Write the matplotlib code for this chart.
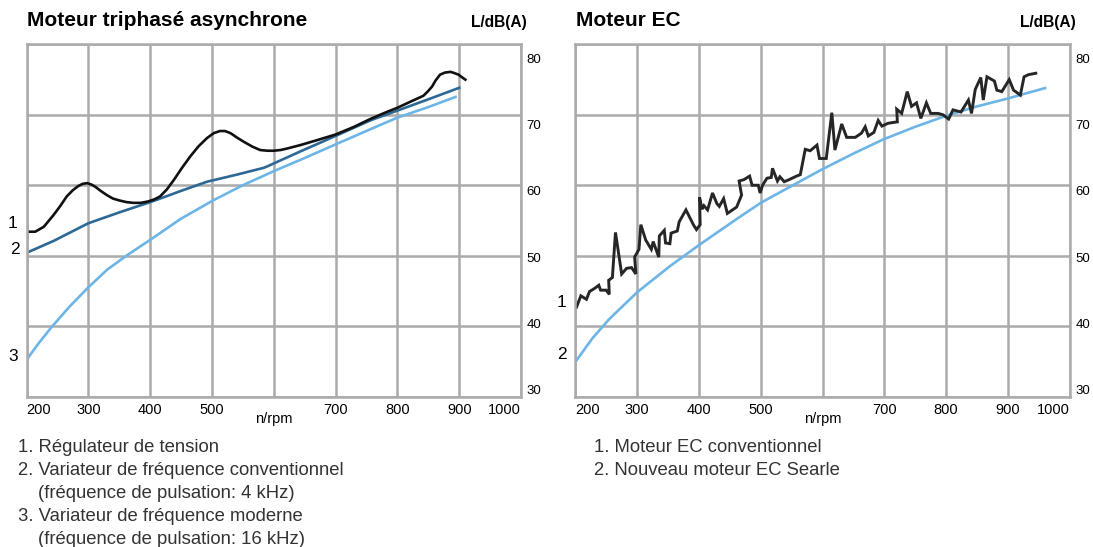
import matplotlib
matplotlib.use('Agg')  # no display
import matplotlib.pyplot as plt
import matplotlib.transforms as mtransforms

plt.rcParams['font.family'] = ['Liberation Sans', 'DejaVu Sans']

# axes
rpm_ticks = [200, 300, 400, 500, 600, 700, 800, 900, 1000]
rpm_labels = ['200', '300', '400', '500', '', '700', '800', '900', '1000']
db_ticks = [30, 40, 50, 60, 70, 80]

# left panel: moteur triphasé asynchrone
reg_rpm = [204, 214, 228, 244, 255, 265, 275, 284, 291, 298, 305, 311, 320, 330, 340,
           352, 362, 373, 385, 397, 407, 416, 427, 438, 451, 465, 478, 492, 503, 513,
           521, 530, 540, 551, 565, 578, 590, 600, 611, 621, 643, 670, 700, 730, 756,
           780, 800, 822, 842, 849, 856, 862, 869, 877, 886, 893, 899, 905, 910]
reg_db = [53.4, 53.4, 54.1, 55.8, 57.1, 58.4, 59.3, 59.9, 60.2, 60.3, 60.1, 59.8, 59.2, 58.6, 58.1,
          57.8, 57.6, 57.5, 57.5, 57.7, 58.0, 58.4, 59.4, 60.7, 62.4, 64.1, 65.5, 66.7, 67.4, 67.7,
          67.7, 67.4, 66.8, 66.2, 65.5, 65.0, 64.9, 64.9, 65.0, 65.2, 65.7, 66.4, 67.2, 68.3, 69.4,
          70.3, 71.0, 71.9, 72.7, 73.3, 74.0, 74.9, 75.7, 76.0, 76.1, 75.9, 75.7, 75.3, 75.0]

conv_rpm = [200, 244, 300, 352, 400, 416, 450, 492, 540, 585, 643, 700, 756, 800, 850, 902]
conv_db = [50.4, 52.1, 54.6, 56.2, 57.6, 58.1, 59.2, 60.5, 61.5, 62.5, 64.8, 67.0, 69.2, 70.6, 72.2, 73.9]

mod_rpm = [200, 220, 241, 270, 300, 331, 365, 401, 416, 449, 503, 550, 600, 643, 700, 772, 800, 850, 896]
mod_db = [35.2, 37.6, 39.9, 42.8, 45.5, 48.05, 50.2, 52.3, 53.2, 55.2, 57.9, 60.0, 62.0, 63.6, 65.8, 68.55, 69.6, 71.1, 72.6]

# right panel: moteur EC
ec_rpm = [202, 209, 218, 223, 232, 238, 241, 250, 255, 254, 260, 265, 275, 283, 291, 298, 296, 303,
          306, 314, 323, 326, 335, 336, 344, 346, 353, 355, 365, 368, 379, 391, 396, 402, 401, 405,
          408, 414, 422, 429, 433, 440, 446, 461, 469, 465, 473, 482, 486, 496, 499, 503, 510, 517,
          519, 527, 531, 538, 546, 558, 564, 572, 580, 591, 595, 606, 615, 620, 631, 639, 653, 663,
          669, 674, 683, 690, 696, 706, 721, 720, 728, 737, 744, 752, 759, 768, 775, 787, 795, 804,
          811, 824, 836, 841, 847, 856, 860, 866, 878, 882, 890, 902, 909, 920, 926, 933, 945]
ec_db = [42.7, 44.3, 43.8, 44.9, 45.4, 45.8, 45.1, 45.1, 44.5, 46.5, 46.9, 53.3, 47.4, 48.2, 48.3, 47.4, 49.8, 50.9,
         54.4, 52.2, 50.9, 52.0, 49.8, 52.8, 53.6, 51.8, 51.7, 53.2, 53.5, 54.8, 56.5, 54.4, 53.7, 54.4, 58.3, 56.6,
         57.1, 56.5, 58.9, 57.4, 57.0, 58.1, 56.0, 56.9, 58.6, 60.6, 60.8, 61.3, 60.0, 60.0, 58.9, 60.0, 61.0, 61.1,
         62.4, 60.6, 61.2, 60.5, 60.8, 61.3, 61.5, 65.1, 64.9, 65.7, 63.8, 63.8, 70.3, 65.0, 68.7, 66.8, 66.8, 67.4,
         68.3, 67.0, 67.5, 69.2, 68.4, 68.8, 69.0, 70.8, 70.2, 73.3, 71.2, 71.7, 69.5, 71.7, 70.2, 70.2, 70.0, 69.4,
         70.7, 70.4, 72.1, 70.2, 73.6, 75.3, 72.1, 75.4, 74.8, 73.5, 73.3, 75.0, 73.5, 72.8, 75.4, 75.7, 75.9]

searle_rpm = [200, 228, 255, 300, 353, 400, 461, 500, 550, 598, 650, 698, 750, 798, 850, 899, 960]
searle_db = [34.9, 38.3, 41.0, 44.8, 48.5, 51.5, 55.2, 57.5, 59.9, 62.2, 64.5, 66.5, 68.3, 69.8, 71.2, 72.3, 73.8]

left_notes = [('1. Régulateur de tension', 0),
              ('2. Variateur de fréquence conventionnel', 1),
              ('(fréquence de pulsation: 4 kHz)', 2),
              ('3. Variateur de fréquence moderne', 1),
              ('(fréquence de pulsation: 16 kHz)', 2)]
right_notes = ['1. Moteur EC conventionnel', '2. Nouveau moteur EC Searle']

GRID = '#ababab'
BLACK = '#111111'
DARKBLUE = '#2c6896'
LIGHTBLUE = '#6db5e6'

W, H = 1093, 547
fig = plt.figure(figsize=(W / 100, H / 100), dpi=100)


def px(x, y):
    return x / W, 1 - y / H


def panel(left_px, title, title_x):
    ax = fig.add_axes([left_px / W, 1 - 396.5 / H, 494.5 / W, 352.1 / H])
    ax.set_xlim(200, 1000)
    ax.set_ylim(30, 80)
    ax.set_xticks(rpm_ticks)
    ax.set_xticklabels(rpm_labels, fontsize=10.5)
    ticklabels = ax.get_xticklabels()
    ticklabels[0].set_ha('left')
    ticklabels[-1].set_ha('right')
    ax.set_yticks(db_ticks)
    ax.set_yticklabels([])
    ax.tick_params(length=0, pad=5)
    ax.grid(True, color=GRID, lw=1.8)
    ax.set_axisbelow(True)
    for s in ax.spines.values():
        s.set_color(GRID)
        s.set_linewidth(1.8)
    # the dB labels in the original sit on their own (slightly tighter) scale
    lab = ax.twinx()
    lab.set_ylim(29.02, 82.05)
    lab.set_yticks(db_ticks)
    lab.set_yticklabels([str(v) for v in db_ticks], fontsize=9.5)
    lab.tick_params(length=0, pad=4)
    for s in lab.spines.values():
        s.set_visible(False)
    trans = mtransforms.blended_transform_factory(ax.transData, ax.transAxes)
    ax.text(600, -0.064, 'n/rpm', transform=trans, ha='center', va='center', fontsize=10.5)
    fig.text(*px(title_x, 20), title, fontsize=15, fontweight='bold', ha='left', va='center')
    fig.text(*px(left_px + 500, 22), 'L/dB(A)', fontsize=11.2, fontweight='bold', ha='right', va='center')
    return ax


# left chart
ax1 = panel(26.5, 'Moteur triphasé asynchrone', 27)
ax1.plot(mod_rpm, mod_db, color=LIGHTBLUE, lw=1.9, solid_capstyle='butt')
ax1.plot(conv_rpm, conv_db, color=DARKBLUE, lw=1.9, solid_capstyle='butt')
ax1.plot(reg_rpm, reg_db, color=BLACK, lw=1.9, solid_joinstyle='round')
for lbl, xs, ys, off in [('1', reg_rpm, reg_db, (-16, 8)),
                         ('2', conv_rpm, conv_db, (-12, 3)),
                         ('3', mod_rpm, mod_db, (-13, 3))]:
    ax1.annotate(lbl, xy=(xs[0], ys[0]), xytext=off, textcoords='offset pixels',
                 ha='center', va='center', fontsize=12.5, annotation_clip=False)

# right chart
ax2 = panel(575.3, 'Moteur EC', 576)
ax2.plot(searle_rpm, searle_db, color=LIGHTBLUE, lw=1.9)
ax2.plot(ec_rpm, ec_db, color='#262626', lw=2.1, solid_joinstyle='miter')
for lbl, xs, ys, off in [('1', ec_rpm, ec_db, (-15, 5)),
                         ('2', searle_rpm, searle_db, (-13, 7))]:
    ax2.annotate(lbl, xy=(xs[0], ys[0]), xytext=off, textcoords='offset pixels',
                 ha='center', va='center', fontsize=12.5, annotation_clip=False)

# notes under the charts
for i, (line, indent) in enumerate(left_notes):
    x = 18 if indent < 2 else 38
    fig.text(*px(x, 448 + i * 22.8), line, fontsize=13.3, color='#333333', ha='left', va='center')
for i, line in enumerate(right_notes):
    fig.text(*px(594, 448 + i * 22.8), line, fontsize=13.3, color='#333333', ha='left', va='center')

fig.savefig('out.png', dpi=100)
